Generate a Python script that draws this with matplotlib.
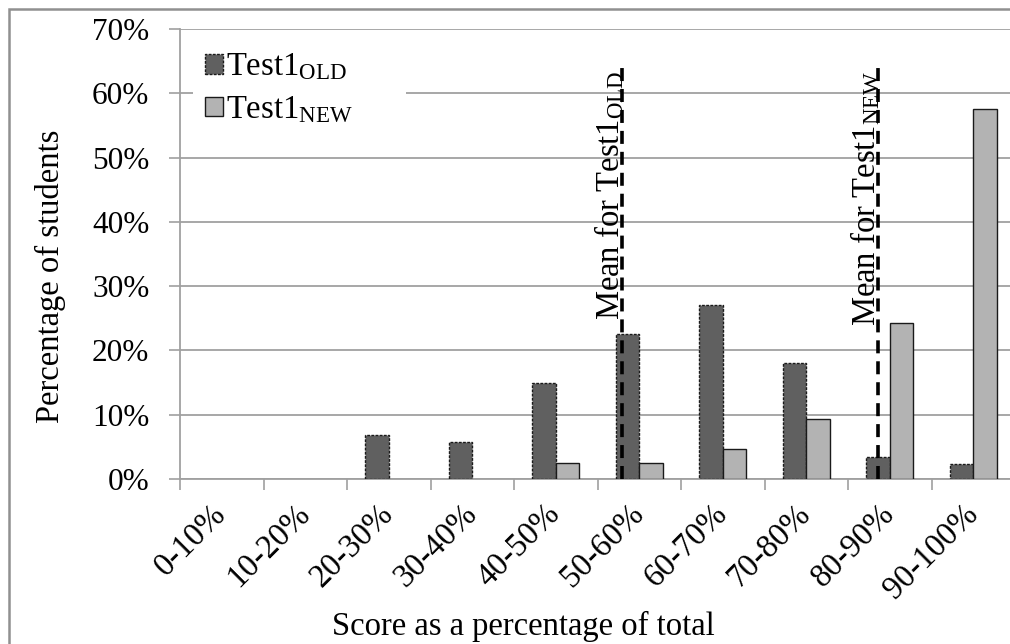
import numpy as np
import matplotlib
matplotlib.use("Agg")
import matplotlib.pyplot as plt
import matplotlib.transforms as mtransforms
from matplotlib.patches import Patch, Rectangle

plt.rcParams["font.family"] = ["Liberation Serif", "DejaVu Serif"]
plt.rcParams["mathtext.fontset"] = "custom"
plt.rcParams["mathtext.rm"] = "Liberation Serif"
plt.rcParams["mathtext.it"] = "Liberation Serif:italic"

# ─── Data ────────────────────────────────────────────────────────────────────
categories = ["0-10%", "10-20%", "20-30%", "30-40%", "40-50%",
              "50-60%", "60-70%", "70-80%", "80-90%", "90-100%"]
old_pct = [0, 0, 6.8, 5.7, 14.9, 22.5, 27.1, 18.0, 3.4, 2.3]
new_pct = [0, 0, 0, 0, 2.5, 2.5, 4.6, 9.3, 24.3, 57.5]
# mean positions on the category axis (category index units)
mean_old = 4.79
mean_new = 7.86
y_ticks = [0, 10, 20, 30, 40, 50, 60, 70]

OLD_C = "#606060"
NEW_C = "#b3b3b3"
GRID_C = "#a0a0a0"
FS = 23.5

fig = plt.figure(figsize=(10.1, 6.44), dpi=100)
ax = fig.add_axes([180 / 1010, 165 / 644, 835 / 1010, 450 / 644])

x = np.arange(len(categories))
w = 0.28
old_arr = np.array(old_pct, dtype=float)
new_arr = np.array(new_pct, dtype=float)
mo = old_arr > 0
mn = new_arr > 0
ax.bar(x[mo] - w / 2, old_arr[mo], w, color=OLD_C, edgecolor="#1a1a1a",
       linewidth=1.0, linestyle=(0, (2, 1)), zorder=3)
ax.bar(x[mn] + w / 2, new_arr[mn], w, color=NEW_C, edgecolor="#1a1a1a",
       linewidth=1.0, zorder=3)

# mean lines + labels
for m, lab in ((mean_old, r"Mean for Test1$_{\mathrm{OLD}}$"),
               (mean_new, r"Mean for Test1$_{\mathrm{NEW}}$")):
    ax.plot([m, m], [0, 65], color="black", lw=2.6,
            linestyle=(0, (3.6, 2.2)), zorder=4, clip_on=False)
    ax.text(m + 0.05, 63.5, lab, rotation=90, ha="right", va="top",
            fontsize=FS, zorder=5)

ax.set_xlim(-0.5, len(categories) - 0.5)
ax.set_ylim(0, 70)
ax.set_yticks(y_ticks)
ax.set_yticklabels([f"{v}%" for v in y_ticks], fontsize=22.5)
ax.set_xticks(np.arange(-0.5, len(categories), 1.0), minor=False)
ax.set_xticklabels([])
ax.set_xticks(x, minor=True)
ax.set_xticklabels(categories, minor=True, rotation=45, ha="right",
                   va="center", rotation_mode="anchor", fontsize=FS)
shift = mtransforms.ScaledTranslation(5 / 100, 0, fig.dpi_scale_trans)
for lbl in ax.get_xticklabels(minor=True):
    lbl.set_transform(lbl.get_transform() + shift)
ax.tick_params(axis="x", which="minor", length=0, pad=22)
ax.tick_params(axis="x", which="major", length=8, color=GRID_C, width=1.2)
ax.tick_params(axis="y", length=8, color=GRID_C, width=1.2, pad=14)

ax.yaxis.grid(True, color=GRID_C, lw=1.3, zorder=0)
ax.set_axisbelow(True)
for s in ("top", "right"):
    ax.spines[s].set_visible(False)
for s in ("left", "bottom"):
    ax.spines[s].set_color(GRID_C)
    ax.spines[s].set_linewidth(1.3)

handles = [
    Patch(facecolor=OLD_C, edgecolor="#1a1a1a", linestyle=(0, (2, 1)), lw=1.0),
    Patch(facecolor=NEW_C, edgecolor="#1a1a1a", lw=1.0),
]
leg = ax.legend(handles, [r"Test1$_{\mathrm{OLD}}$", r"Test1$_{\mathrm{NEW}}$"],
                loc="upper left", bbox_to_anchor=(0.008, 0.0, 0.27, 0.99),
                mode="expand", frameon=True, fancybox=False, fontsize=FS,
                handlelength=0.55, handleheight=0.55, handletextpad=0.12,
                labelspacing=0.38, borderaxespad=0.2, borderpad=0.35)
leg.get_frame().set_facecolor("white")
leg.get_frame().set_edgecolor("none")
leg.get_frame().set_alpha(1)
leg.set_zorder(6)

fig.text(50 / 1010, 1 - 276 / 644, "Percentage of students", rotation=90,
         ha="center", va="center", fontsize=FS)
fig.text(523 / 1010, 1 - 626 / 644, "Score as a percentage of total",
         ha="center", va="center", fontsize=FS)

fig.patches.append(Rectangle((9 / 1010, -0.1), 1.2, 1 - 9 / 644 + 0.1,
                             transform=fig.transFigure, fill=False,
                             edgecolor="#909090", lw=1.8))

fig.savefig("out.png", dpi=100)
